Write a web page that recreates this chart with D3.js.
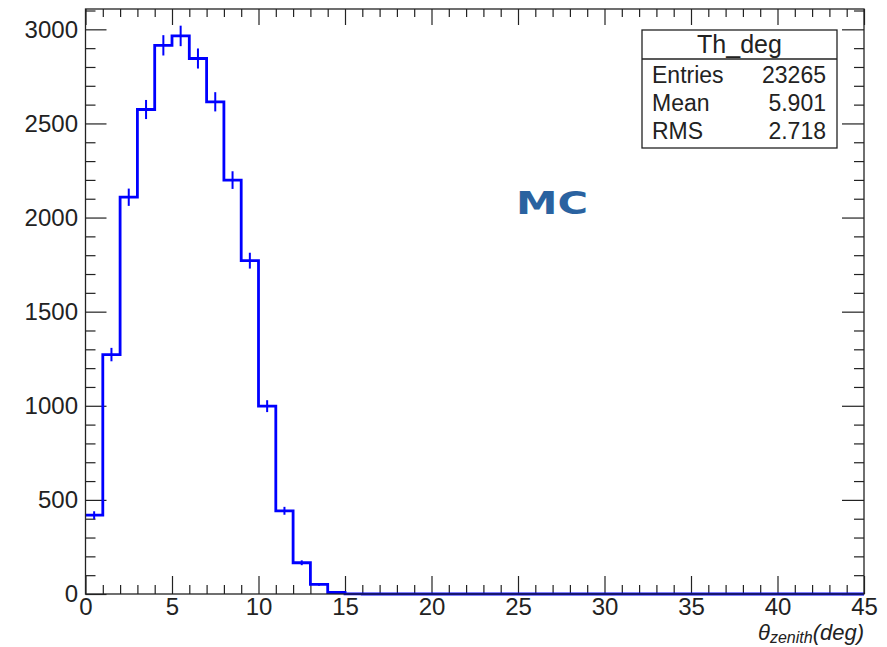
<!DOCTYPE html>
<html>
<head>
<meta charset="utf-8">
<script src="https://cdn.jsdelivr.net/npm/d3@7"></script>
<style>
  body { margin: 0; background: #fff; }
  svg { display: block; font-family: "Liberation Sans", Arial, sans-serif; }
  .axis path { display: none; }
  .axis line { stroke: #222; stroke-width: 1.2; }
  .axis text { font-size: 24px; fill: #222; }
</style>
</head>
<body>
<div id="chart"></div>
<script>
"use strict";

// Th_deg histogram, 45 bins of 1 degree from 0 to 45
var binStart = 0;
var binWidth = 1;
var counts = [419, 1272, 2108, 2574, 2915, 2965, 2845, 2615, 2199, 1771,
  998, 442, 166, 51, 8, 1, 0, 0, 0, 0,
  0, 0, 0, 0, 0, 0, 0, 0, 0, 0,
  0, 0, 0, 0, 0, 0, 0, 0, 0, 0,
  0, 0, 0, 0, 0];
var xTicks = [0, 5, 10, 15, 20, 25, 30, 35, 40, 45];
var yTicks = [0, 500, 1000, 1500, 2000, 2500, 3000];
var statsTitle = "Th_deg";
var statsLabels = ["Entries", "Mean", "RMS"];
var statsValues = ["23265", "5.901", "2.718"];

var w = 887,
  h = 647;
var frameL = 85.5, frameR = 864, frameT = 9, frameB = 594;

var svg = d3.select("#chart").append("svg").attr("width", w).attr("height", h);

var x = d3.scaleLinear().domain([0, 45]).range([frameL, frameR]);
var y = d3.scaleLinear().domain([0, 3108]).range([frameB, frameT]);

var bins = counts.map(function (c, i) {
  return { lo: binStart + i * binWidth, hi: binStart + (i + 1) * binWidth, n: c };
});

// major / minor tick sets
var xMinor = d3.range(0, 46, 1).filter(function (v) { return v % 5 !== 0; });
var yMinor = d3.range(0, 3101, 100).filter(function (v) { return v % 500 !== 0; });

// bottom axis
svg.append("g").attr("class", "axis").attr("transform", "translate(0," + frameB + ")")
  .call(d3.axisBottom(x).tickValues(xTicks).tickSize(-18).tickPadding(4).tickFormat(d3.format("d")));
svg.append("g").attr("class", "axis").attr("transform", "translate(0," + frameB + ")")
  .call(d3.axisBottom(x).tickValues(xMinor).tickSize(-9).tickFormat(""));
// top axis
svg.append("g").attr("class", "axis").attr("transform", "translate(0," + frameT + ")")
  .call(d3.axisTop(x).tickValues(xTicks).tickSize(-16).tickFormat(""));
svg.append("g").attr("class", "axis").attr("transform", "translate(0," + frameT + ")")
  .call(d3.axisTop(x).tickValues(xMinor).tickSize(-8).tickFormat(""));
// left axis
svg.append("g").attr("class", "axis").attr("transform", "translate(" + frameL + ",0)")
  .call(d3.axisLeft(y).tickValues(yTicks).tickSize(-21).tickPadding(7.5).tickFormat(d3.format("d")));
svg.append("g").attr("class", "axis").attr("transform", "translate(" + frameL + ",0)")
  .call(d3.axisLeft(y).tickValues(yMinor).tickSize(-10).tickFormat(""));
// right axis
svg.append("g").attr("class", "axis").attr("transform", "translate(" + frameR + ",0)")
  .call(d3.axisRight(y).tickValues(yTicks).tickSize(-22).tickFormat(""));
svg.append("g").attr("class", "axis").attr("transform", "translate(" + frameR + ",0)")
  .call(d3.axisRight(y).tickValues(yMinor).tickSize(-10).tickFormat(""));

// histogram outline
var pts = [];
bins.forEach(function (b) {
  pts.push([x(b.lo), y(b.n)]);
  pts.push([x(b.hi), y(b.n)]);
});
svg.append("path")
  .attr("d", d3.line()(pts))
  .attr("fill", "none")
  .attr("stroke", "#0000ff")
  .attr("stroke-width", 2.8)
  .attr("stroke-linejoin", "miter");

// sqrt(N) error bars at bin centres
svg.append("g").selectAll("line")
  .data(bins.filter(function (b) { return b.n > 0; }))
  .enter().append("line")
  .attr("x1", function (b) { return x((b.lo + b.hi) / 2); })
  .attr("x2", function (b) { return x((b.lo + b.hi) / 2); })
  .attr("y1", function (b) { return y(b.n + Math.sqrt(b.n)); })
  .attr("y2", function (b) { return y(b.n - Math.sqrt(b.n)); })
  .attr("stroke", "#0000ff")
  .attr("stroke-width", 2);

// frame
svg.append("rect")
  .attr("x", frameL).attr("y", frameT)
  .attr("width", frameR - frameL).attr("height", frameB - frameT)
  .attr("fill", "none").attr("stroke", "#222").attr("stroke-width", 1.3);

// axis title
var title = svg.append("text")
  .attr("x", frameR).attr("y", 640)
  .attr("text-anchor", "end")
  .attr("fill", "#222")
  .style("font-style", "italic")
  .style("font-size", "22px");
title.append("tspan").text("\u03b8");
title.append("tspan").attr("dy", 3).style("font-size", "16px").text("zenith");
title.append("tspan").attr("dy", -3).text("(deg)");

// stats box
var box = svg.append("g");
box.append("rect")
  .attr("x", 642).attr("y", 30).attr("width", 195).attr("height", 118)
  .attr("fill", "#fff").attr("stroke", "#222").attr("stroke-width", 1.3);
box.append("line")
  .attr("x1", 642).attr("x2", 837).attr("y1", 59).attr("y2", 59)
  .attr("stroke", "#222").attr("stroke-width", 1.3);
box.append("text")
  .attr("x", 739.5).attr("y", 53)
  .attr("text-anchor", "middle")
  .style("font-size", "25px").attr("fill", "#222")
  .text(statsTitle);
statsLabels.forEach(function (lab, i) {
  box.append("text")
    .attr("x", 652).attr("y", 83 + i * 28)
    .style("font-size", "23px").attr("fill", "#222")
    .text(lab);
  box.append("text")
    .attr("x", 826).attr("y", 83 + i * 28)
    .attr("text-anchor", "end")
    .style("font-size", "23px").attr("fill", "#222")
    .text(statsValues[i]);
});

// MC label
svg.append("text")
  .attr("x", 516).attr("y", 214)
  .attr("textLength", 72).attr("lengthAdjust", "spacingAndGlyphs")
  .style("font-family", "'DejaVu Sans', sans-serif")
  .style("font-weight", "bold")
  .style("font-size", "32px")
  .attr("fill", "#2a62a0")
  .text("MC");
</script>
</body>
</html>
